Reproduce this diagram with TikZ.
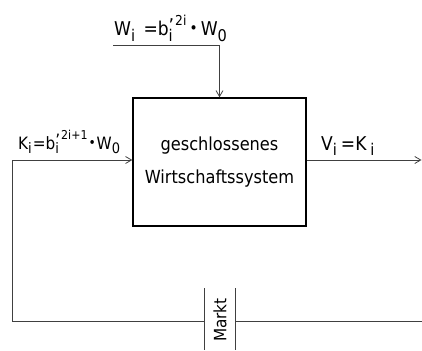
\documentclass[tikz,border=0pt]{standalone}
\usepackage{fontspec}
\setmainfont{DejaVu Sans Condensed}
\usetikzlibrary{arrows.meta}
\newcommand\lo[1]{\raisebox{-0.5ex}{\scalebox{0.85}{#1}}}
\newcommand\hi[1]{\raisebox{1.0ex}{\scalebox{0.72}{#1}}}
\newcommand\lohi[2]{\rlap{\lo{#1}}\raisebox{0.3ex}{'}\hspace{1pt}\hi{#2}}
\newcommand\mydot{\raisebox{0.2ex}{\scalebox{0.8}{•}}}
\tikzset{
  wire/.style={line width=0.9pt, draw=black!75},
  arr/.style={wire, -{Straight Barb[length=6pt,width=7pt,line width=0.8pt]}},
  lbl/.style={inner sep=0pt, font=\fontsize{19}{22}\selectfont, anchor=base west},
  box/.style={draw, line width=1.4pt, minimum width=173pt, minimum height=128pt, inner sep=0pt, align=center, font=\fontsize{18}{33}\selectfont},
}
\begin{document}
\begin{tikzpicture}[x=1pt,y=-1pt]
\useasboundingbox (0,0) rectangle (422,350);
\node[box] (sys) at (219.5,162) {geschlossenes\\Wirtschaftssystem};
% top input
\coordinate (wstart) at (113,45);
\coordinate (wbend) at (sys.north |- wstart);
\draw[arr] (wstart) -- (wbend) -- (sys.north);
\node[lbl] (wlab) at (114,36) {W\lo{i}\hspace{3pt} =b\lohi{i}{2i}\,\mydot\,W\lo{0}};
% left input
\coordinate (kcorner) at (12,160);
\coordinate (bl) at (12,321);
\draw[arr] (bl) -- (kcorner) -- (kcorner -| sys.west);
\node[lbl, font=\fontsize{17}{20}\selectfont] (klab) at (18,149) {K\lo{i}\hspace{1pt}=b\lohi{i}{2i+1}\hspace{1pt}\mydot\hspace{1pt}W\lo{0}};
% output
\coordinate (vend) at (421.5,160);
\draw[arr] (sys.east |- vend) -- (vend);
\node[lbl] (vlab) at (321,150) {V\lo{i}\hspace{4pt}=K\hspace{4pt}\lo{i}};
% market
\node[rotate=90, inner sep=0pt, font=\fontsize{17}{18}\selectfont] (markt) at (220,320) {Markt};
\coordinate (m1t) at (204,288);
\coordinate (m1b) at (204,350);
\coordinate (m2t) at (235,288);
\coordinate (m2b) at (235,350);
\draw[wire] (m1t) -- (m1b);
\draw[wire] (m2t) -- (m2b);
\coordinate (bre) at (422,321);
\draw[wire] (bl) -- (bl -| m1t);
\draw[wire] (bl -| m2t) -- (bre);
\end{tikzpicture}
\end{document}
